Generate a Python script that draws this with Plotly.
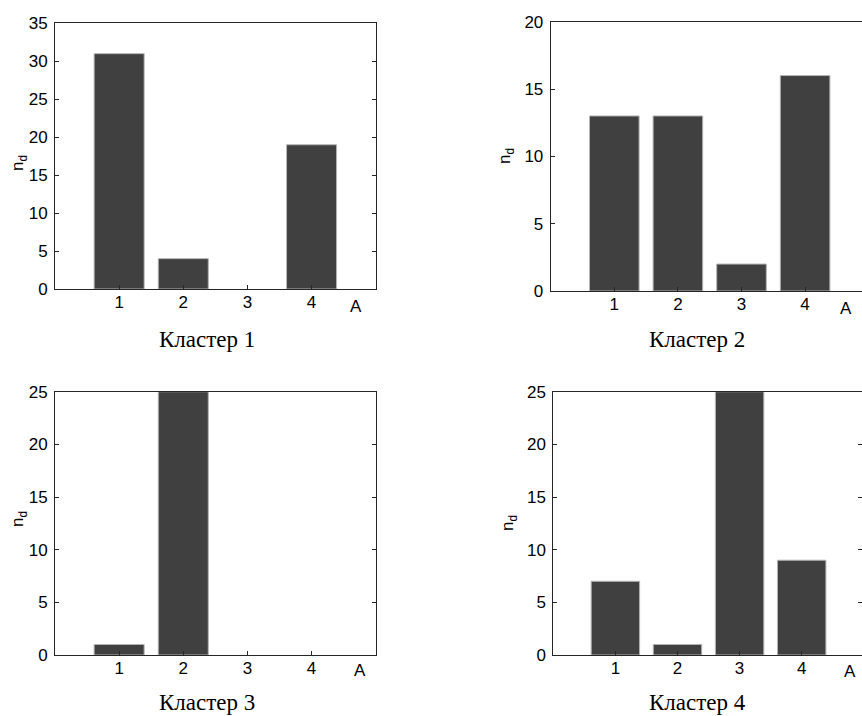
import plotly.graph_objects as go

W, H = 862, 716

categories = [1, 2, 3, 4]
cluster1 = [31, 4, 0, 19]
cluster2 = [13, 13, 2, 16]
cluster3 = [1, 25, 0, 0]
cluster4 = [7, 1, 25, 9]
titles = ["Кластер 1", "Кластер 2", "Кластер 3", "Кластер 4"]
y_ranges = [35, 20, 25, 25]
y_dticks = [5, 5, 5, 5]

# panel geometry in pixels: (left, right, top, bottom, xmax)
panels = [
    (55.0, 375.7, 23.3, 289.0, 5.0),
    (550.7, 862.0, 21.7, 291.0, (862 - 550.7) / 63.6),
    (55.0, 375.7, 391.7, 655.0, 5.0),
    (553.3, 862.0, 391.7, 655.0, (862 - 553.3) / 62.1),
]
mirror_y = [True, False, True, True]
title_pos = [(207, 339), (697, 339), (207, 702), (697, 702)]
a_pos = [(356, 306), (846, 308), (360, 670), (850, 671)]
nd_pos = [(19, 163), (506, 156), (19, 519), (509, 523)]

data = [cluster1, cluster2, cluster3, cluster4]

TICK_FONT = dict(family="Liberation Sans, Arial, sans-serif", size=17, color="black")
TITLE_FONT = dict(family="Liberation Serif, Times New Roman, serif", size=23, color="black")
LINE = "#262626"

fig = go.Figure()
layout = dict(
    template="none",
    width=W, height=H,
    margin=dict(l=0, r=0, t=0, b=0, pad=0, autoexpand=False),
    paper_bgcolor="white", plot_bgcolor="white",
    showlegend=False,
    annotations=[],
)

for i, vals in enumerate(data):
    n = "" if i == 0 else str(i + 1)
    left, right, top, bottom, xmax = panels[i]
    fig.add_trace(go.Bar(
        x=categories, y=vals, width=0.78,
        marker=dict(color="#404040",
                    line=dict(color="#b4b4b4", width=[1 if v > 0 else 0 for v in vals])),
        xaxis="x" + n, yaxis="y" + n,
    ))
    layout["xaxis" + n] = dict(
        domain=[left / W, min(right / W, 1.0)],
        range=[0, xmax],
        anchor="y" + n,
        tickvals=categories,
        ticks="inside", ticklen=4, tickcolor=LINE,
        showline=True, linecolor=LINE, linewidth=1, mirror=True,
        showgrid=False, zeroline=False, automargin=False,
        tickfont=TICK_FONT,
        ticklabelstandoff=-2,
    )
    layout["yaxis" + n] = dict(
        domain=[1 - bottom / H, 1 - top / H],
        range=[0, y_ranges[i]],
        anchor="x" + n,
        dtick=y_dticks[i],
        ticks="inside", ticklen=4, tickcolor=LINE,
        showline=True, linecolor=LINE, linewidth=1,
        mirror="ticks" if mirror_y[i] else False,
        showgrid=False, zeroline=False, automargin=False,
        tickfont=TICK_FONT,
        ticklabelstandoff=3,
    )
    tx, ty = title_pos[i]
    layout["annotations"].append(dict(
        text=titles[i], x=tx / W, y=1 - ty / H, xref="paper", yref="paper",
        xanchor="center", yanchor="middle", showarrow=False, font=TITLE_FONT,
    ))
    ax, ay = a_pos[i]
    layout["annotations"].append(dict(
        text="A", x=ax / W, y=1 - ay / H, xref="paper", yref="paper",
        xanchor="center", yanchor="middle", showarrow=False, font=TICK_FONT,
    ))
    nx, ny = nd_pos[i]
    layout["annotations"].append(dict(
        text="n<sub>d</sub>", x=nx / W, y=1 - ny / H, xref="paper", yref="paper",
        xanchor="center", yanchor="middle", showarrow=False, textangle=-90,
        font=TICK_FONT,
    ))

fig.update_layout(**layout)
fig.write_html(
    "out.html",
    config={"displayModeBar": False},
    post_script="document.body.style.margin='0';document.body.style.overflow='hidden';",
)
